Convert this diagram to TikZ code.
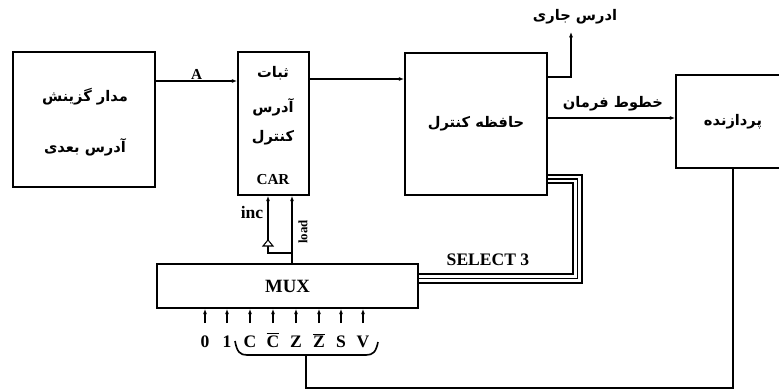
\documentclass[tikz,border=0pt]{standalone}
\usepackage{fontspec}
\setmainfont{Liberation Serif}
\newfontfamily\fafont[Script=Arabic]{DejaVu Sans}
\TeXXeTstate=1
\usetikzlibrary{arrows.meta}
\newcommand{\fatext}[1]{{\fafont\bfseries\beginR #1\endR}}

\begin{document}
\begin{tikzpicture}[
    x=0.03cm, y=-0.03cm,
    line width=1.4pt,
    >={Latex[length=4.5pt,width=3.5pt]},
    box/.style={draw, line width=1.6pt, inner sep=0pt},
    lat/.style={font=\bfseries\fontsize{15}{17}\selectfont, inner sep=1pt},
    per/.style={font=\fontsize{12.5}{14}\selectfont, inner sep=1pt}
  ]
    \clip (0,0) rectangle (779,392);
    \fill[white] (0,0) rectangle (779,392);

    % blocks
    \node[box, minimum width=4.26cm, minimum height=4.05cm] (nas) at (84,119.5) {};
    \node[box, minimum width=2.13cm, minimum height=4.29cm] (car) at (273.5,123.5) {};
    \node[box, per, minimum width=4.26cm, minimum height=4.26cm] (cm) at (476,124) {\fatext{حافظه کنترل}};
    \node[box, per, minimum width=3.42cm, minimum height=2.79cm] (proc) at (733,121.5) {\fatext{پردازنده}};
    \node[box, lat, font=\bfseries\fontsize{16}{18}\selectfont, minimum width=7.83cm, minimum height=1.32cm] (mux) at (287.5,286) {MUX};

    % texts in the blocks
    \node[per] (nas1) at (85,97) {\fatext{مدار گزینش}};
    \node[per] (nas2) at (85,147) {\fatext{آدرس بعدی}};
    \node[per] (car1) at (273,73) {\fatext{ثبات}};
    \node[per] (car2) at (273,107) {\fatext{آدرس}};
    \node[per] (car3) at (273,138) {\fatext{کنترل}};
    \node[lat, font=\bfseries\fontsize{13}{15}\selectfont] (carlbl) at (273,180) {CAR};

    % address path
    \draw[->] (nas.east |- 0,81) -- (car.west |- 0,81)
      node[lat, font=\bfseries\fontsize{13}{15}\selectfont, midway, above] (albl) {A};
    \draw[->] (car.east |- 0,79) -- (cm.west |- 0,79);

    \coordinate (cur) at (571,32);
    \node[per] (curlbl) at (575,17) {\fatext{ادرس جاری}};
    \draw[->] (cm.east |- 0,77) -| (cur);

    \draw[->] (cm.east |- 0,118) -- (proc.west |- 0,118);
    \node[per] (cmdlbl) at (613,104) {\fatext{خطوط فرمان}};

    % select lines
    \foreach \k [evaluate=\k as \ya using 175+4*\k,
                 evaluate=\k as \xb using 582-4.5*\k,
                 evaluate=\k as \yb using 283-4.5*\k] in {0,1,2}
      \draw[line width=1.2pt] (cm.east |- 0,\ya) -| (\xb,\yb) -- (mux.east |- 0,\yb);
    \node[lat] (sellbl) at (488,260) {SELECT 3};

    % inc / load
    \coordinate (jn) at (292,253);
    \draw[->] (mux.north -| 292,0) -- (car.south -| 292,0);
    \draw (jn) -| (268,246);
    \draw[fill=white, line width=0.9pt] (263,246) -- (273,246) -- (268,240) -- cycle;
    \draw[->] (268,240) -- (car.south -| 268,0);
    \node[lat] (inclbl) at (252,212) {inc};
    \node[lat, font=\bfseries\fontsize{11}{13}\selectfont, rotate=90] (loadlbl) at (303,232) {load};

    % status inputs
    \foreach \x/\s [count=\i] in {205/0, 227/1, 250/C, 273/{$\overline{\hbox{C}}$},
                                  296/Z, 319/{$\overline{\hbox{Z}}$}, 341/S, 363/V} {
      \node[lat, anchor=base] (in\i) at (\x,347) {\s};
      \draw[->] (in\i.base |- 0,323) -- (in\i.base |- mux.south);
    }
    \coordinate (brc) at (306,355);
    \draw (235,341) .. controls (237,352) and (240,355) .. (247,355) -- (366,355)
      .. controls (373,355) and (376,352) .. (378,342);

    % feedback from processor
    \draw (proc.south) -- (proc.south |- 0,388) -| (brc);
  \end{tikzpicture}
\end{document}
